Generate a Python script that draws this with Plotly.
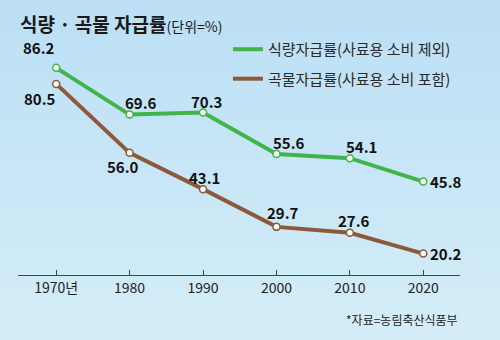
import plotly.graph_objects as go

years = [1970, 1980, 1990, 2000, 2010, 2020]
tick_labels = ["1970년", "1980", "1990", "2000", "2010", "2020"]
food = [86.2, 69.6, 70.3, 55.6, 54.1, 45.8]
grain = [80.5, 56.0, 43.1, 29.7, 27.6, 20.2]
food_name = "식량자급률(사료용 소비 제외)"
grain_name = "곡물자급률(사료용 소비 포함)"

GREEN = "#41b549"
BROWN = "#8c5a3a"
FONT = "Noto Sans CJK KR"

fig = go.Figure()
for name, vals, col in ((food_name, food, GREEN), (grain_name, grain, BROWN)):
    fig.add_trace(go.Scatter(
        x=years, y=vals, mode="lines+markers", name=name, showlegend=False,
        line=dict(color=col, width=4),
        marker=dict(size=7, color="white", line=dict(color=col, width=1.5)),
    ))
    fig.add_trace(go.Scatter(
        x=[None], y=[None], mode="lines", name=name, legendgroup=name,
        line=dict(color=col, width=4),
    ))

# label offsets in pixels (dx, dy) with anchor
food_off = [(-17, 20, "center"), (11, 12, "center"), (3, 11, "center"),
            (13, 11, "center"), (12, 12, "center"), (5, 0, "left")]
grain_off = [(-16, -15, "center"), (-7, -14, "center"), (1, 12, "center"),
             (7, 14, "center"), (4, 12, "center"), (5, 0, "left")]
for ys, offs in ((food, food_off), (grain, grain_off)):
    for x, y, (dx, dy, anc) in zip(years, ys, offs):
        fig.add_annotation(
            x=x, y=y, text=f"<b>{y:.1f}</b>", showarrow=False,
            xshift=dx, yshift=dy, xanchor=anc,
            font=dict(family=FONT, size=15, color="#111111"),
        )

# title
fig.add_annotation(
    xref="paper", yref="paper", x=0.0, y=1.0, xanchor="left", yanchor="bottom",
    yshift=1,
    text="<b>식량 · 곡물 자급률</b><span style='font-size:14px'>(단위=%)</span>",
    showarrow=False, font=dict(family=FONT, size=19, color="#1a1a1a"),
)
# source
fig.add_annotation(
    xref="paper", yref="paper", x=1.0, y=0, xanchor="right", yanchor="top",
    yshift=-34, text="*자료=농림축산식품부", showarrow=False,
    font=dict(family=FONT, size=12, color="#222222"),
)

# gradient background stripes
n = 40
top = (186, 222, 245)
bot = (214, 238, 248)
shapes = []
for i in range(n):
    t = i / (n - 1)
    c = tuple(round(top[k] + (bot[k] - top[k]) * t) for k in range(3))
    shapes.append(dict(
        type="rect", xref="paper", yref="paper", layer="below",
        x0=-0.1, x1=1.2, y0=1.3 - (i + 1) * 1.7 / n, y1=1.3 - i * 1.7 / n + 0.01,
        fillcolor=f"rgb{c}", line=dict(width=0),
    ))
fig.update_layout(shapes=shapes)

fig.update_layout(
    width=500, height=340,
    margin=dict(l=18, r=40, t=40, b=65),
    paper_bgcolor="rgb(200,230,246)",
    plot_bgcolor="rgba(0,0,0,0)",
    font=dict(family=FONT),
    showlegend=True,
    legend=dict(
        x=0.475, y=1.03, xanchor="left", yanchor="top",
        bgcolor="rgba(0,0,0,0)", font=dict(family=FONT, size=15, color="#2a2a2a"),
        itemwidth=30, tracegroupgap=7,
    ),
    xaxis=dict(
        range=[1964.8, 2025.0], tickvals=years, ticktext=tick_labels,
        showgrid=False, zeroline=False, showline=True, linecolor="#444", linewidth=1.2,
        ticks="inside", ticklen=5, tickcolor="#444",
        tickfont=dict(family=FONT, size=14, color="#222"),
        fixedrange=True,
    ),
    yaxis=dict(range=[12.6, 96.1], visible=False, fixedrange=True),
)

fig.write_html("out.html")
